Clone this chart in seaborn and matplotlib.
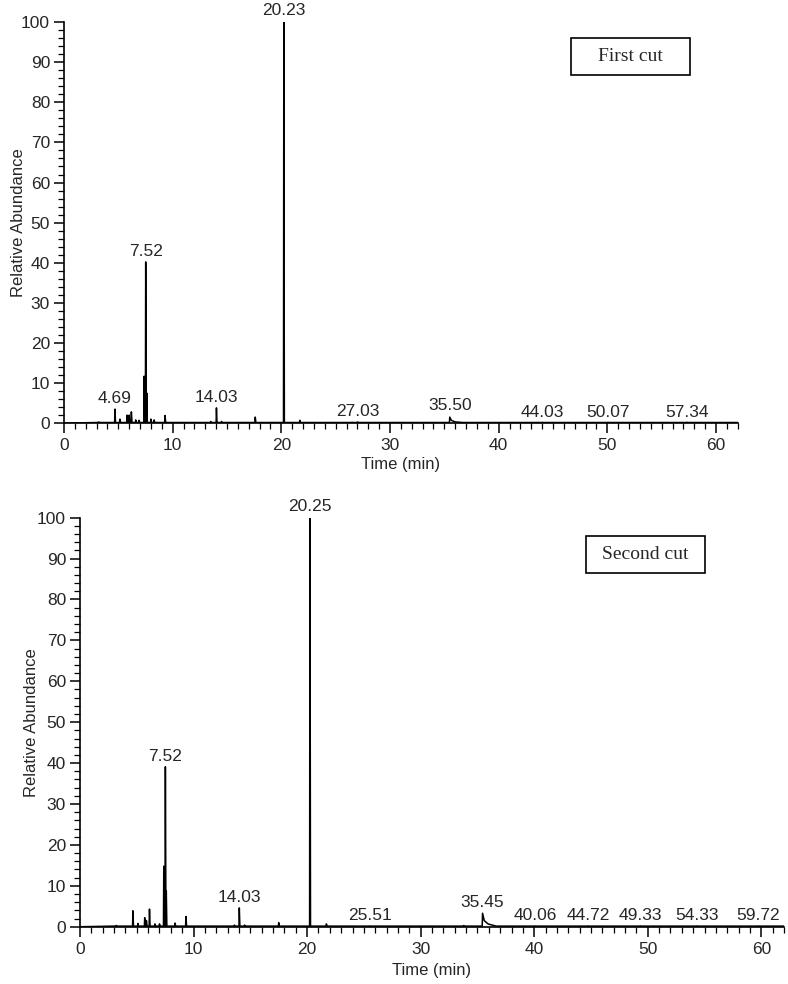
import numpy as np
import pandas as pd
import matplotlib
matplotlib.use("Agg")
import matplotlib.pyplot as plt
import seaborn as sns
from matplotlib.ticker import MultipleLocator
from matplotlib.patches import Rectangle

# ---------------- data ----------------
# First cut: peak retention times (min) and relative abundances (%)
top_times = [3.2, 4.69, 5.15, 5.8, 6.0, 6.2, 6.6, 6.9, 7.38, 7.52, 7.62, 8.0, 8.3, 9.3,
             13.5, 14.03, 14.5, 17.6, 20.23, 21.7, 26.5, 27.03, 35.50, 44.03, 50.07, 57.34]
top_heights = [0.3, 3.5, 1.0, 2.0, 2.0, 2.8, 0.8, 0.7, 11.7, 40.2, 7.5, 1.0, 0.8, 1.9,
               0.4, 3.8, 0.4, 1.5, 100.0, 0.7, 0.2, 0.3, 1.5, 0.2, 0.2, 0.2]
top_labels = ["4.69", "7.52", "14.03", "20.23", "27.03", "35.50", "44.03", "50.07", "57.34"]
top_label_x = [4.69, 7.52, 14.03, 20.23, 27.03, 35.50, 44.03, 50.07, 57.34]
top_label_y = [4.3, 41.0, 4.6, 101.0, 1.1, 2.6, 0.9, 0.9, 0.9]

# Second cut
bot_times = [3.2, 4.66, 5.1, 5.7, 5.85, 6.12, 6.6, 7.0, 7.38, 7.52, 7.6, 8.37, 9.33,
             13.6, 14.03, 14.5, 17.5, 20.25, 21.7, 25.51, 33.8, 35.45, 40.06, 44.72,
             49.33, 54.33, 59.72]
bot_heights = [0.3, 3.9, 0.8, 2.2, 1.5, 4.3, 0.7, 0.7, 14.8, 39.1, 8.7, 0.9, 2.5,
               0.4, 4.6, 0.4, 1.0, 100.0, 0.7, 0.2, 0.3, 3.3, 0.2, 0.2, 0.2, 0.2, 0.2]
bot_labels = ["7.52", "14.03", "20.25", "25.51", "35.45", "40.06", "44.72", "49.33", "54.33", "59.72"]
bot_label_x = [7.52, 14.03, 20.25, 25.51, 35.45, 40.06, 44.72, 49.33, 54.33, 59.72]
bot_label_y = [39.8, 5.3, 101.0, 0.9, 4.0, 0.9, 0.9, 0.9, 0.9, 0.9]

x_ticks = [0, 10, 20, 30, 40, 50, 60]
y_ticks = [0, 10, 20, 30, 40, 50, 60, 70, 80, 90, 100]


def build_trace(times, heights, base=0.15):
    xs, ys = [0.0, 3.0], [0.0, base]
    for t, h in zip(times, heights):
        lw, rw = 0.03, 0.05 if h >= 3 else 0.06
        if 35 < t < 36 and h > 1:
            xs += [t - lw, t, t + 0.15, t + 0.5, t + 1.2]
            ys += [base, h, h * 0.45, h * 0.2, base]
            continue
        xs += [t - lw, t, t + rw]
        ys += [base, h, base]
    xs.append(62.0)
    ys.append(base)
    return pd.DataFrame({"Time": xs, "Abundance": ys})


sns.set_theme(style="white")
plt.rcParams["font.family"] = ["Liberation Sans", "DejaVu Sans"]

fig = plt.figure(figsize=(7.88, 9.84), dpi=100)
ax1 = fig.add_axes([0.0812, 0.570, 0.855, 0.4075])
ax2 = fig.add_axes([0.1015, 0.0582, 0.8935, 0.4157])

FS = 12.5


def style_axis(ax, df, labels, lx, ly, box_text, box_rect, ylab_x, xlab_y):
    sns.lineplot(data=df, x="Time", y="Abundance", ax=ax, color="black",
                 linewidth=1.1, estimator=None, sort=False)
    ax.set_xlim(0, 62)
    ax.set_ylim(0, 100)
    ax.set_xticks(x_ticks)
    ax.set_yticks(y_ticks)
    ax.xaxis.set_minor_locator(MultipleLocator(1))
    ax.yaxis.set_minor_locator(MultipleLocator(2))
    for s in ["top", "right"]:
        ax.spines[s].set_visible(False)
    for s in ["left", "bottom"]:
        ax.spines[s].set_color("black")
        ax.spines[s].set_linewidth(1.2)
    ax.tick_params(axis="both", which="major", direction="out", length=7, width=1.1,
                   labelsize=FS, color="black", bottom=True, left=True, pad=3)
    ax.tick_params(axis="x", which="major", pad=4)
    ax.tick_params(axis="both", which="minor", direction="out", length=4, width=0.9,
                   color="black", bottom=True, left=True)
    ax.set_xlabel("Time (min)", fontsize=12)
    ax.set_ylabel("Relative Abundance", fontsize=12)
    ax.yaxis.set_label_coords(ylab_x, 0.5)
    ax.xaxis.set_label_coords(0.5, xlab_y)
    for t, x, y in zip(labels, lx, ly):
        ax.text(x, y, t, ha="center", va="bottom", fontsize=FS, clip_on=False)
    x0, y0, w, h = box_rect
    fig.add_artist(Rectangle((x0, y0), w, h, transform=fig.transFigure, facecolor="white",
                             edgecolor="black", linewidth=1.2))
    fig.text(x0 + w / 2, y0 + h / 2, box_text, ha="center", va="center",
             fontsize=14, family=["Liberation Serif", "DejaVu Serif"])


style_axis(ax1, build_trace(top_times, top_heights), top_labels, top_label_x, top_label_y,
           "First cut", (0.7246, 0.9238, 0.151, 0.0376), -0.056, -0.085)
style_axis(ax2, build_trace(bot_times, bot_heights), bot_labels, bot_label_x, bot_label_y,
           "Second cut", (0.7437, 0.4177, 0.151, 0.0376), -0.058, -0.088)

fig.savefig("out.png", dpi=100)
